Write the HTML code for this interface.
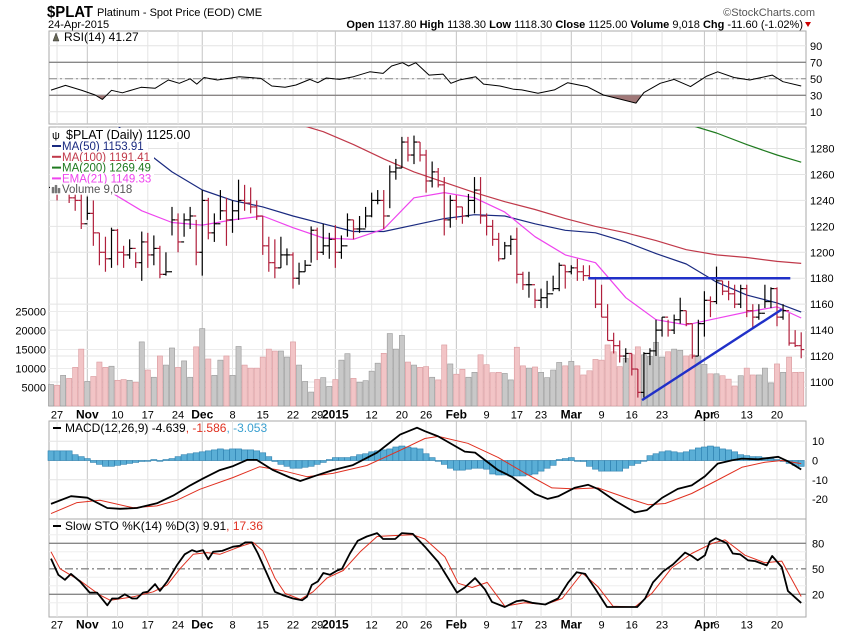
<!DOCTYPE html>
<html><head><meta charset="utf-8"><style>
body{margin:0;background:#fff;}
svg text{font-family:"Liberation Sans",sans-serif;}
</style></head><body>
<svg id="chart" width="850" height="633" viewBox="0 0 850 633" xmlns="http://www.w3.org/2000/svg">
<rect x="0" y="0" width="850" height="633" fill="#fff"/>
<g>
<text x="47" y="17" font-size="16" font-weight="bold" textLength="46" lengthAdjust="spacingAndGlyphs">$PLAT</text>
<text x="97" y="16" font-size="11">Platinum  - Spot Price (EOD)  CME</text>
<text x="48" y="28" font-size="11">24-Apr-2015</text>
<text x="815" y="16" font-size="11" fill="#555" text-anchor="end">©StockCharts.com</text>
<text x="803" y="28" font-size="11" text-anchor="end"><tspan font-weight="bold">Open</tspan> 1137.80 <tspan font-weight="bold">High</tspan> 1138.30 <tspan font-weight="bold">Low</tspan> 1118.30 <tspan font-weight="bold">Close</tspan> 1125.00 <tspan font-weight="bold">Volume</tspan> 9,018 <tspan font-weight="bold">Chg</tspan> -11.60 (-1.02%)</text>
<path d="M805,22 L811,22 L808,27 Z" fill="#c00"/>
</g>
<g id="grid"></g>
<g id="marks"></g>
<g id="labels"></g>
</svg>
<script>
// ---- data ----
const dateLabelIdx = [1,6,11,16,21,25,30,35,40,44,47,53,58,62,67,72,77,81,86,91,96,101,108,110,115,120];
const dateLabelText = ["27","Nov","10","17","24","Dec","8","15","22","29","2015","12","20","26","Feb","9","17","23","Mar","9","16","23","Apr","6","13","20"];
const dateLabelMonth = [0,1,0,0,0,1,0,0,0,0,1,0,0,0,1,0,0,0,1,0,0,0,1,0,0,0];
const closes = [1250,1248,1255,1242,1240,1222,1230,1215,1200,1195,1217,1200,1198,1203,1192,1208,1198,1203,1183,1185,1225,1208,1225,1228,1200,1240,1215,1222,1232,1225,1232,1240,1238,1235,1228,1205,1192,1188,1198,1198,1180,1185,1190,1217,1200,1205,1210,1200,1205,1225,1218,1218,1228,1240,1240,1228,1262,1265,1285,1275,1285,1275,1255,1262,1252,1225,1240,1235,1228,1240,1248,1228,1220,1210,1195,1205,1210,1183,1175,1175,1163,1165,1168,1172,1190,1185,1188,1185,1182,1180,1160,1150,1132,1128,1120,1122,1110,1092,1122,1124,1140,1150,1140,1148,1155,1145,1120,1145,1163,1162,1178,1170,1168,1160,1172,1155,1150,1153,1162,1172,1150,1155,1130,1128,1125];
const highs = [1262,1258,1262,1258,1250,1245,1243,1240,1215,1212,1219,1218,1205,1210,1200,1216,1215,1213,1205,1200,1235,1230,1230,1235,1225,1248,1242,1230,1248,1242,1240,1256,1252,1250,1240,1228,1212,1210,1212,1203,1200,1192,1194,1220,1219,1222,1215,1221,1213,1230,1225,1228,1235,1246,1248,1248,1267,1272,1289,1289,1290,1285,1279,1270,1265,1258,1244,1244,1235,1245,1258,1258,1230,1225,1215,1208,1213,1219,1185,1185,1172,1172,1178,1182,1192,1190,1190,1195,1190,1190,1181,1175,1160,1138,1132,1126,1122,1110,1123,1126,1148,1150,1148,1152,1165,1155,1145,1148,1170,1166,1189,1178,1178,1175,1175,1175,1160,1160,1175,1173,1173,1160,1153,1140,1138.3];
const lows = [1245,1240,1245,1238,1232,1218,1225,1205,1190,1185,1188,1190,1188,1195,1188,1178,1188,1190,1180,1182,1213,1200,1212,1218,1190,1182,1210,1208,1225,1205,1215,1225,1232,1230,1225,1198,1185,1180,1188,1190,1172,1175,1185,1192,1194,1198,1195,1188,1195,1212,1210,1215,1219,1227,1237,1218,1234,1256,1265,1270,1268,1270,1246,1250,1250,1213,1219,1225,1222,1227,1230,1222,1213,1205,1193,1195,1198,1176,1171,1165,1157,1157,1157,1170,1170,1172,1183,1178,1178,1180,1157,1150,1132,1122,1115,1115,1105,1088,1088,1113,1120,1135,1135,1137,1145,1143,1118,1120,1135,1150,1160,1167,1163,1157,1157,1150,1142,1148,1157,1157,1143,1148,1128,1127,1118.3];
const volumes = [5800,5600,8200,7400,10300,15100,6600,7900,11700,10300,10600,6900,7100,6900,6400,17000,9600,7700,13300,10900,15400,10300,12000,7700,15700,20500,12500,8200,12200,13300,8200,15800,10900,10100,10100,13000,15100,14600,14600,13000,17000,10900,6600,3800,7100,7600,5300,7100,12200,13900,7400,6400,6800,9300,11400,14000,19200,15100,18700,11700,10900,10300,10500,7700,7000,16200,11200,8500,9800,7700,9000,13600,11000,8900,9000,8700,7000,15600,10700,10100,10400,9000,7600,9600,11600,10700,11900,10700,8300,9400,12400,12200,16200,14400,10500,12700,13600,15700,13600,13200,16900,13000,14400,15100,14800,13300,13600,13300,11100,8600,8600,8100,7200,5400,8100,10100,8300,8300,10100,6200,11200,9000,13000,9000,9018];
const maIdx = [0,5,10,15,20,25,30,35,40,45,50,55,60,65,70,75,80,85,90,95,100,105,110,115,120,124];
const ma50 = [1330,1318,1302,1280,1262,1248,1240,1235,1228,1222,1216,1216,1221,1226,1229,1228,1222,1217,1215,1208,1199,1191,1177,1167,1161,1153.91];
const ma100 = [1360,1350,1340,1330,1322,1316,1310,1305,1300,1293,1283,1272,1262,1254,1246,1239,1233,1226,1220,1215,1209,1202,1198,1196,1193,1191.41];
const ma200 = [1420,1412,1404,1396,1388,1380,1372,1364,1356,1350,1344,1338,1332,1327,1322,1317,1325,1320,1315,1310,1305,1299,1292,1283,1275,1269.49];
const ema21 = [1262,1255,1246,1232,1223,1221,1225,1228,1219,1211,1210,1218,1242,1246,1242,1231,1212,1198,1192,1165,1148,1144,1149,1154,1158,1149.33];
const trendIdx0 = [88.8, 97.7];
const trendIdx1 = [122.2, 120.8];
const trendP0 = [1180, 1086];
const trendP1 = [1180, 1156];
const rsiIdx = [0,2.4,5.1,7.3,8.5,10,11.8,14.9,17.2,19.4,21.2,23,24.1,25.3,27.5,31.1,34.7,36.5,38.7,40.5,42.8,44.1,45.5,47.7,50,52.7,54.9,56.3,58.1,59.1,60.3,62.5,64.8,66.1,67.5,70.2,71.5,74.2,76.5,77.8,80.5,83.2,85.4,88.6,91.3,93.9,96.7,98,100.7,103,105.7,108.4,110.2,112.9,115.5,119.2,121,124];
const rsiVal = [36.3,42,35.9,30.4,25,36,33,39.7,38.5,48.5,44.5,50,43.6,51.6,48.5,52.5,50.5,41.3,39.7,42.5,49.3,45.3,51,49.3,52.5,58.5,56.5,65.5,69.5,65.5,69.5,54.5,55.7,44.5,48.5,52.5,43.6,41.3,37.3,36.5,32.5,36.5,45.3,40.5,30.4,25.6,20.5,33.3,44.5,49.3,40.5,53.3,58.5,51.6,48.5,54.5,46.5,41.27];
const macdIdx = [0,3.3,6,9.3,11.4,14.2,17.5,20.2,23,25.1,27.9,30.1,32.4,34,36.7,39.5,41.2,44,46.6,49.9,53.9,57.7,60.5,61.8,64,68.4,70.1,73.9,76.2,80,82.1,83.8,86.6,88.8,90.4,93.2,96.5,98.5,101,103.6,105.9,108.1,110.2,112.6,114.2,116.9,120.2,121.8,124];
const macdVal = [-22.5,-18.5,-19.3,-24.6,-25,-24.6,-22.2,-18.2,-12.9,-9.4,-5,-2.9,0.3,0.3,-5,-8.8,-10.6,-7.6,-5,-2.4,4.1,13.4,17,15.2,12.5,4.6,4.1,-5,-8.5,-17.3,-19.9,-18.6,-14.1,-12.6,-14.7,-20.8,-26.9,-25.7,-19.4,-14.7,-12.9,-8.2,-1.6,0.1,1,0.6,1.9,-0.4,-4.639];
const sigIdx = [0,4.3,8.1,13.6,17.5,20.8,24.6,30.1,34.5,38.3,42.3,46.6,52.2,57.7,61.8,64,68.9,73.9,78.3,82.8,86.6,90.4,94.9,98.7,101.5,105.9,110.2,114.2,118,120.8,124];
const sigVal = [-27.5,-21.8,-20.6,-24.5,-23.5,-20.6,-14.9,-8.8,-3.2,-5.3,-8.4,-6.7,-2.6,5.3,11.4,12.5,8.9,1.6,-6.5,-14.2,-14.7,-14.2,-19.1,-22.9,-22.3,-17.1,-10.1,-3.5,-0.9,0,-1.586];
const histVal = [5,5,5,5,3,2,1,-1,-2,-3,-3,-2.5,-2,-1.5,-1,-0.5,0,0.5,0,0.5,1,2,3,3.5,4,4.5,5,5.5,6,5.5,6,6,5.5,5.5,5,4,2,-0.5,-2,-3,-4,-4,-3.5,-3,-2,-1,0.5,1.5,1.5,1.5,2,3,3.5,4.5,5,5.5,6,7,7.5,7,6.5,6,3.5,1.5,0,-2,-4,-5,-5,-4.5,-4,-4,-4.5,-7,-7.5,-7.5,-8,-8,-8,-7.5,-7,-5.5,-4,-2.5,0.5,1,1.5,0,-0.5,-3,-4.5,-5.5,-5.5,-5.5,-5.5,-4,-2.5,-1.5,0,2.5,3.5,4.5,5,4.5,4,4.5,5.5,6.5,7,7.5,7,6,5.5,4.5,3,2.5,2,2,1.5,1,0.5,-0.5,-1.5,-2.5,-3.053];
const kIdx = [0,1.2,2.3,3.3,4.8,6.4,7.6,9.3,10.1,11.1,12.2,13.4,14.2,15.2,16,17.2,18,19.2,20.8,22.1,23.3,24.1,25.1,26,26.8,28.3,30.1,31.2,32.1,33.2,34.2,35.7,37,38.3,40,41.5,42.3,43.1,44.1,45,46.1,47.3,48.1,49.4,50.7,52.2,53.9,54.9,56.9,58,59.8,61.8,64,65.1,67.1,68.4,70.1,71.7,72.9,75,77,78,79.5,81.7,83.8,85.5,86.9,88.3,89.9,91.9,94.9,96.9,98.2,99.5,101.2,102.8,104.8,105.9,106.9,108.1,108.9,109.9,111.7,112.7,113.9,115.2,116.4,118.3,119.2,120.8,121.8,124];
const kVal = [62,43,37,44,35,22,22,7,15,15,20,15,15,22,23,32,24,35,54,67,72,70,72,61,70,71,76,77,81,81,68,44,23,19,15,13,17,31,35,45,43,48,50,68,83,88,92,85,85,92,91,76,58,45,22,28,39,26,11,5,12,13,10,8,15,34,46,44,27,5,5,5,15,34,47,55,69,65,60,66,82,86,80,68,67,60,59,54,65,52,24,9.91];
const dIdx = [0,1.5,4.8,8.1,9.8,13.6,16.9,19.2,21.3,23.5,25.8,27.9,31.2,33.4,35,37,38.7,41.2,43.3,45.6,48.3,51.1,53.9,56.5,59.8,61.8,65.1,67.3,69.6,72.1,75,78.3,81.7,84.5,87.8,90.4,92.9,96.5,99.3,102.6,105.9,109.3,111.4,114.7,118,120.8,124];
const dVal = [70,50,36,19,13,17,23,31,50,67,69,67,76,81,71,39,21,14,23,39,48,70,88,89,90,85,64,33,28,34,6,10,8,15,45,29,6,5,21,51,68,80,84,66,57,59,17.36];
const priceTicks = [1100,1120,1140,1160,1180,1200,1220,1240,1260,1280];
const volTicks = [5000,10000,15000,20000,25000];
const rsiTicks = [10,30,50,70,90];
const macdTicks = [10,0,-10,-20];
const stoTicks = [20,50,80];

// ---- scales ----
const L = 49, R = 806;
function xs(i){ return 51 + 6.05*i; }
function yR(v){ return 62.3 - (v-70)*0.825; }
function yP(p){ return 252.3 - (p-1200)*1.297; }
function yV(v){ return 406.5 - v*19/5000; }
function yM(v){ return 460.5 - v*1.93; }
function yS(v){ return 611.3 - v*0.85; }
const panels = [
  {name:'rsi-panel', top:31, bottom:124},
  {name:'price-panel', top:127, bottom:406},
  {name:'macd-panel', top:421, bottom:519},
  {name:'sto-panel', top:519, bottom:617}
];
const NS = 'http://www.w3.org/2000/svg';
const gGrid = document.getElementById('grid');
const gMarks = document.getElementById('marks');
const gLab = document.getElementById('labels');
function mk(tag, attrs, parent){
  const e = document.createElementNS(NS, tag);
  for (const k in attrs) e.setAttribute(k, attrs[k]);
  parent.appendChild(e);
  return e;
}
function txt(x,y,s,attrs,parent){
  const e = mk('text', Object.assign({x:x,y:y,'font-size':11}, attrs||{}), parent);
  e.textContent = s;
  return e;
}

const defs = mk('defs', {}, document.getElementById('chart'));
panels.forEach((p,k)=>{
  const c = mk('clipPath', {id:'clip'+k}, defs);
  mk('rect', {x:L, y:p.top, width:R-L, height:p.bottom-p.top}, c);
});
const rc = mk('clipPath', {id:'rsiLow'}, defs);
mk('rect', {x:L, y:yR(30), width:R-L, height:124-yR(30)}, rc);

panels.forEach((p,k)=>{
  const r = mk('rect', {x:L, y:p.top, width:R-L, height:p.bottom-p.top, fill:'#fff', stroke:'#aaa', 'stroke-width':1}, gGrid);
  
  
  dateLabelIdx.forEach((di,j)=>{
    const ln = mk('line', {x1:xs(di), x2:xs(di), y1:p.top, y2:p.bottom, stroke: dateLabelMonth[j] ? '#c4c4c4' : '#e4e4e4', 'stroke-width':1}, gGrid);
    
    
  });
});

rsiTicks.forEach(v=>{
  const strong = (v===30||v===70);
  const ln = mk('line', {x1:L, x2:R, y1:yR(v), y2:yR(v), stroke: strong ? '#888' : '#e4e4e4', 'stroke-width': strong?1.3:1}, gGrid);
  
  
  const t = txt(810, yR(v)+4, String(v), {}, gLab);
  
  
});
const r50 = mk('line', {x1:L, x2:R, y1:yR(50), y2:yR(50), stroke:'#888', 'stroke-dasharray':'8,3,2,3'}, gGrid);



priceTicks.forEach(v=>{
  const ln = mk('line', {x1:L, x2:R, y1:yP(v), y2:yP(v), stroke:'#e4e4e4'}, gGrid);
  
  
  const t = txt(810, yP(v)+4, String(v), {}, gLab);
  
  
});
volTicks.forEach(v=>{
  const ln = mk('line', {x1:L, x2:R, y1:yV(v), y2:yV(v), stroke:'#ececec'}, gGrid);
  
  
  const t = txt(46, yV(v)+4, String(v), {'text-anchor':'end'}, gLab);
  
  
});

macdTicks.forEach(v=>{
  const ln = mk('line', {x1:L, x2:R, y1:yM(v), y2:yM(v), stroke:'#e4e4e4'}, gGrid);
  
  
  const t = txt(812, yM(v)+4, String(v), {}, gLab);
  
  
});
[10,30,40,60,70,90].forEach(v=>{
  const ln = mk('line', {x1:L, x2:R, y1:yS(v), y2:yS(v), stroke:'#eee'}, gGrid);
  
  
});
stoTicks.forEach(v=>{
  const ln = mk('line', {x1:L, x2:R, y1:yS(v), y2:yS(v), stroke:'#888', 'stroke-width':1.3, 'stroke-dasharray': v===50 ? '8,3,2,3' : 'none'}, gGrid);
  
  
  const t = txt(812, yS(v)+4, String(v), {}, gLab);
  
  
});

[414.5, 624.5].forEach((yy,row)=>{
  dateLabelIdx.forEach((di,j)=>{
    const t = txt(xs(di), yy+4, dateLabelText[j], {'text-anchor':'middle', 'font-weight': dateLabelMonth[j] ? 'bold' : 'normal', 'font-size': dateLabelMonth[j] ? 12 : 11}, gLab);
    
    
  });
});

function poly(idxArr, valArr, yfn, stroke, width, clipK, name){
  const pts = idxArr.map((d,k)=> xs(d).toFixed(1)+','+yfn(valArr[k]).toFixed(1)).join(' ');
  const pl = mk('polyline', {points:pts, fill:'none', stroke:stroke, 'stroke-width':width, 'stroke-linejoin':'round', 'clip-path':'url(#clip'+clipK+')'}, gMarks);
  
  
  return pl;
}

const rsiPts = rsiIdx.map((d,k)=> xs(d).toFixed(1)+','+yR(rsiVal[k]).toFixed(1));
const rsiFill = mk('polygon', {points: rsiPts.join(' ')+' '+xs(rsiIdx[rsiIdx.length-1])+','+yR(30)+' '+xs(rsiIdx[0])+','+yR(30), fill:'#a07878', 'clip-path':'url(#rsiLow)'}, gMarks);


poly(rsiIdx, rsiVal, yR, '#000', 1, 0, 'rsi-line');

volumes.forEach((v,i)=>{
  const up = i===0 ? true : closes[i] >= closes[i-1];
  const r = mk('rect', {x:xs(i)-2.6, y:yV(v), width:5.2, height:406-yV(v), fill: up ? '#c8c8c8' : '#f2c4c6', stroke: up ? '#9a9a9a' : '#d99a9e', 'stroke-width':0.6}, gMarks);
  
  
});

poly(maIdx, ma200, yP, '#1f7a1f', 1.2, 1, 'ma200-line');
poly(maIdx, ma100, yP, '#c0394a', 1.2, 1, 'ma100-line');
poly(maIdx, ma50, yP, '#1a2a80', 1.2, 1, 'ma50-line');
poly(maIdx, ema21, yP, '#ee44ee', 1.2, 1, 'ema21-line');

closes.forEach((c,i)=>{
  const up = i===0 ? true : c >= closes[i-1];
  const col = up ? '#000' : '#b0203c';
  const x = xs(i);
  const o = i===0 ? c : closes[i-1];
  const g = mk('g', {stroke:col, 'stroke-width':1.2, 'clip-path':'url(#clip1)'}, gMarks);
  
  
  mk('line', {x1:x, x2:x, y1:yP(highs[i]), y2:yP(lows[i])}, g);
  mk('line', {x1:x-3, x2:x, y1:yP(o), y2:yP(o)}, g);
  mk('line', {x1:x, x2:x+3, y1:yP(c), y2:yP(c)}, g);
});

trendIdx0.forEach((d,k)=>{
  const ln = mk('line', {x1:xs(d), y1:yP(trendP0[k]), x2:xs(trendIdx1[k]), y2:yP(trendP1[k]), stroke:'#2030c8', 'stroke-width':2.4}, gMarks);
  
  
});

histVal.forEach((v,i)=>{
  const y0 = yM(0), y1 = yM(v);
  const r = mk('rect', {x:xs(i)-3, y:Math.min(y0,y1), width:6, height:Math.max(0.8,Math.abs(y1-y0)), fill:'#5aaed6', stroke:'#2b7fae', 'stroke-width':0.6}, gMarks);
  
  
});
poly(sigIdx, sigVal, yM, '#e03020', 1, 2, 'macd-signal-line');
poly(macdIdx, macdVal, yM, '#000', 1.8, 2, 'macd-line');

poly(dIdx, dVal, yS, '#e03020', 1, 3, 'sto-d-line');
poly(kIdx, kVal, yS, '#000', 1.8, 3, 'sto-k-line');

// legends
const lg = mk('g', {}, gLab);


const t1 = txt(64, 41, 'RSI(14) 41.27', {'font-size':12}, lg);


const ico = mk('path', {d:'M53,41 L56,33 L59,41 Z', fill:'#665', stroke:'#333', 'stroke-width':0.5}, lg);


const bg0 = mk('rect', {x:50, y:128, width:140, height:14, fill:'#fff'}, lg);


const t2 = txt(66, 139, '$PLAT (Daily) 1125.00', {'font-size':12.5}, lg);


const t2i = txt(52, 139, 'ψ', {'font-size':11}, lg);


const legTexts = ['MA(50) 1153.91','MA(100) 1191.41','MA(200) 1269.49','EMA(21) 1149.33','Volume 9,018'];
const legCols = ['#1a2a80','#c0394a','#1f7a1f','#ee44ee','#555'];
const legW = [98,104,104,104,82];
legTexts.forEach((s,k)=>{
  const y = 150 + k*10.8;
  const bg = mk('rect', {x:50, y:y-9.5, width:legW[k], height:11, fill:'#fff'}, lg);
  
  
  if (k<4){
    const ln = mk('line', {x1:52, x2:61, y1:y-4, y2:y-4, stroke:legCols[k], 'stroke-width':2}, lg);
    
    
  } else {
    const ic = mk('path', {d:'M52,'+y+' v-6 h2 v6 M55,'+y+' v-8 h2 v8 M58,'+y+' v-5 h2 v5', fill:'#777', stroke:'#777', 'stroke-width':0.5}, lg);
    
    
  }
  const t = txt(62, y, s, {'font-size':11.5, fill:legCols[k]}, lg);
  
  
});
const ml = mk('line', {x1:53, x2:61, y1:428, y2:428, stroke:'#000', 'stroke-width':2}, lg);


const t3 = txt(65, 432, '', {'font-size':12}, lg);


t3.innerHTML = '<tspan>MACD(12,26,9) -4.639</tspan><tspan fill="#e03020">, -1.586</tspan><tspan fill="#3aa0d0">, -3.053</tspan>';
const sl = mk('line', {x1:53, x2:61, y1:526, y2:526, stroke:'#000', 'stroke-width':2}, lg);


const t4 = txt(65, 530, '', {'font-size':12}, lg);


t4.innerHTML = '<tspan>Slow STO %K(14) %D(3) 9.91</tspan><tspan fill="#e03020">, 17.36</tspan>';
</script>
</body></html>
